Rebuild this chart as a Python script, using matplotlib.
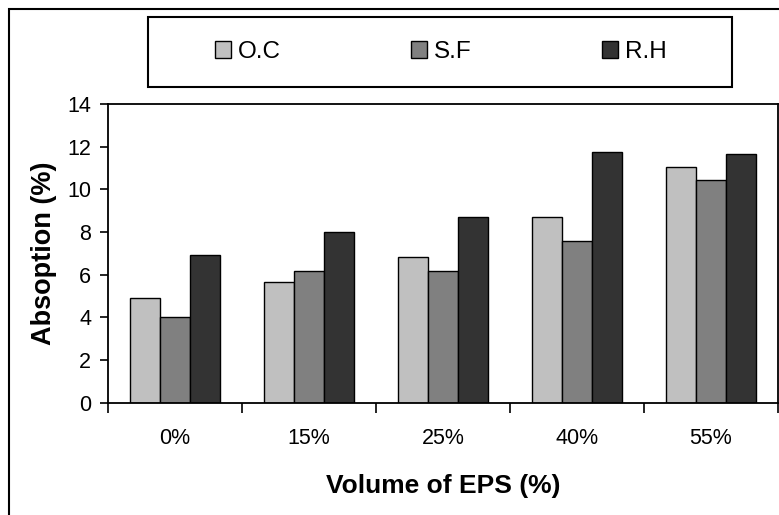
import numpy as np
import matplotlib.pyplot as plt
from matplotlib.patches import Rectangle

plt.rcParams['font.family'] = ['Liberation Sans', 'DejaVu Sans']

# Водопоглинання для різних вмістів EPS
categories = ['0%', '15%', '25%', '40%', '55%']
series_names = ['O.C', 'S.F', 'R.H']
oc_values = [4.9, 5.65, 6.85, 8.7, 11.05]
sf_values = [4.0, 6.15, 6.15, 7.6, 10.45]
rh_values = [6.9, 8.0, 8.7, 11.75, 11.65]
colors = ['#c0c0c0', '#808080', '#333333']

W, H = 779, 515
fig = plt.figure(figsize=(W / 100, H / 100), dpi=100)
ax = fig.add_axes([107.7 / W, 1 - 402.7 / H, (778 - 107.7) / W, (402.7 - 104) / H])

x = np.arange(len(categories))
width = 0.223
for i, (vals, name, col) in enumerate(zip([oc_values, sf_values, rh_values], series_names, colors)):
    ax.bar(x + (i - 1) * width, vals, width, color=col, edgecolor='black',
           linewidth=1.0, label=name, zorder=2)

ax.set_xlim(-0.5, len(categories) - 0.5)
ax.set_ylim(0, 14)
ax.set_yticks(np.arange(0, 15, 2))

# Засічки на межах категорій, підписи по центру
ax.set_xticks(np.arange(-0.5, len(categories), 1.0))
ax.set_xticklabels([])
ax.set_xticks(x, minor=True)
ax.set_xticklabels(categories, minor=True)
ax.tick_params(axis='x', which='major', direction='out', length=7, width=1.2)
ax.tick_params(axis='x', which='minor', length=0, pad=18, labelsize=15.5)
ax.tick_params(axis='y', direction='out', length=6, width=1.2, pad=6, labelsize=15.5)

for s in ax.spines.values():
    s.set_linewidth(1.3)

ax.set_xlabel('Volume of EPS (%)', fontsize=19, fontweight='bold', labelpad=18)
ax.set_ylabel('Absoption (%)', fontsize=19.5, fontweight='bold', labelpad=7)

# Рамка навколо всього графіка та рамка легенди
fig.patches.append(Rectangle((9 / W, -0.1), 1.2, 1 - 9 / H + 0.1, transform=fig.transFigure,
                             fill=False, edgecolor='black', linewidth=1.5))
fig.patches.append(Rectangle((148 / W, 1 - 87 / H), (732 - 148) / W, 70 / H,
                             transform=fig.transFigure, fill=False, edgecolor='black',
                             linewidth=1.5))

fig.legend(loc='center', bbox_to_anchor=(441 / W, 1 - 52 / H), ncol=3, frameon=False,
           fontsize=17.5, handlelength=0.65, handleheight=0.65, handletextpad=0.3,
           columnspacing=5.35, borderaxespad=0)

fig.savefig('out.png', dpi=100)
